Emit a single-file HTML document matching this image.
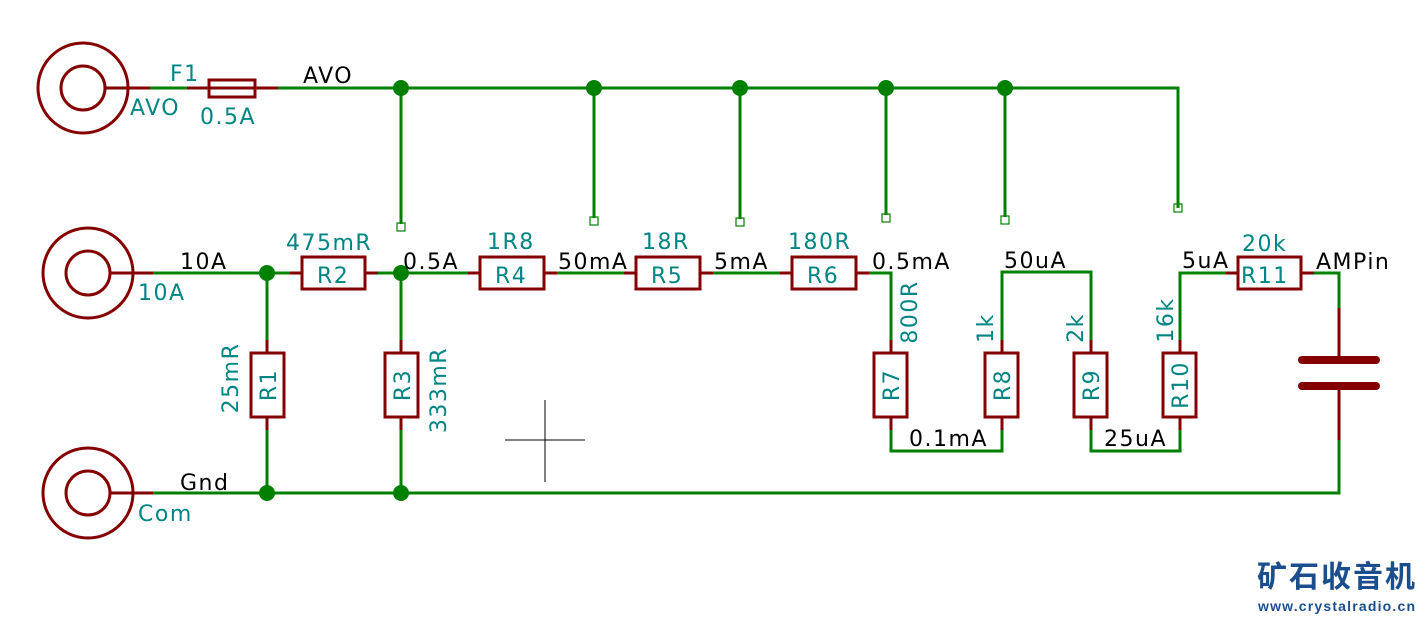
<!DOCTYPE html>
<html><head><meta charset="utf-8"><style>
html,body{margin:0;padding:0;background:#fff;}
svg{display:block}
text{font-family:"DejaVu Sans","Liberation Sans",sans-serif;font-size:22px;letter-spacing:1.5px;}
.t{fill:#008484}
.b{fill:#000}
</style></head><body>
<svg width="1424" height="617" viewBox="0 0 1424 617" xmlns="http://www.w3.org/2000/svg">
<g fill="none" stroke="#840000" stroke-width="3">
<circle cx="83" cy="88" r="45"/><circle cx="83" cy="88" r="22"/>
<circle cx="88" cy="273" r="45"/><circle cx="88" cy="273" r="22"/>
<circle cx="88" cy="493" r="45"/><circle cx="88" cy="493" r="22"/>
<line x1="105" y1="88" x2="150" y2="88"/>
<line x1="187" y1="88" x2="278" y2="88"/>
<rect x="209" y="80" width="46" height="17"/>
<line x1="110" y1="273" x2="153" y2="273"/>
<line x1="110" y1="493" x2="153" y2="493"/>
<rect x="302" y="257" width="63" height="32"/><line x1="290" y1="273" x2="302" y2="273"/><line x1="365" y1="273" x2="378" y2="273"/>
<rect x="480" y="257" width="64" height="32"/><line x1="468" y1="273" x2="480" y2="273"/><line x1="544" y1="273" x2="557" y2="273"/>
<rect x="636" y="257" width="64" height="32"/><line x1="624" y1="273" x2="636" y2="273"/><line x1="700" y1="273" x2="713" y2="273"/>
<rect x="792" y="257" width="64" height="32"/><line x1="780" y1="273" x2="792" y2="273"/><line x1="856" y1="273" x2="869" y2="273"/>
<rect x="1238" y="257" width="63" height="32"/><line x1="1226" y1="273" x2="1238" y2="273"/><line x1="1301" y1="273" x2="1314" y2="273"/>
<rect x="251" y="353" width="33" height="64"/><line x1="267" y1="340" x2="267" y2="353"/><line x1="267" y1="417" x2="267" y2="430"/>
<rect x="385" y="353" width="33" height="64"/><line x1="401" y1="340" x2="401" y2="353"/><line x1="401" y1="417" x2="401" y2="430"/>
<rect x="874" y="353" width="33" height="64"/><line x1="891" y1="340" x2="891" y2="353"/><line x1="891" y1="417" x2="891" y2="430"/>
<rect x="985" y="353" width="33" height="64"/><line x1="1002" y1="340" x2="1002" y2="353"/><line x1="1002" y1="417" x2="1002" y2="430"/>
<rect x="1074" y="353" width="33" height="64"/><line x1="1091" y1="340" x2="1091" y2="353"/><line x1="1091" y1="417" x2="1091" y2="430"/>
<rect x="1163" y="353" width="33" height="64"/><line x1="1180" y1="340" x2="1180" y2="353"/><line x1="1180" y1="417" x2="1180" y2="430"/>
<line x1="1339" y1="308" x2="1339" y2="360"/><line x1="1339" y1="386" x2="1339" y2="440"/>
<line x1="1302" y1="360" x2="1376" y2="360" stroke-width="8" stroke-linecap="round"/>
<line x1="1302" y1="386" x2="1376" y2="386" stroke-width="8" stroke-linecap="round"/>
</g>
<g fill="none" stroke="#008000" stroke-width="3">
<line x1="150" y1="88" x2="187" y2="88"/>
<polyline points="278,88 1178,88 1178,208"/>
<line x1="401" y1="88" x2="401" y2="224"/>
<line x1="594" y1="88" x2="594" y2="218"/>
<line x1="740" y1="88" x2="740" y2="219"/>
<line x1="886" y1="88" x2="886" y2="215"/>
<line x1="1005" y1="88" x2="1005" y2="217"/>
<line x1="153" y1="273" x2="290" y2="273"/>
<line x1="378" y1="273" x2="468" y2="273"/>
<line x1="557" y1="273" x2="624" y2="273"/>
<line x1="713" y1="273" x2="780" y2="273"/>
<polyline points="869,273 891,273 891,340"/>
<polyline points="891,430 891,451 1002,451 1002,430"/>
<polyline points="1002,340 1002,272 1091,272 1091,340"/>
<polyline points="1091,430 1091,451 1180,451 1180,430"/>
<polyline points="1180,340 1180,273 1226,273"/>
<polyline points="1314,273 1339,273 1339,308"/>
<polyline points="1339,440 1339,493 153,493"/>
<line x1="267" y1="273" x2="267" y2="340"/><line x1="267" y1="430" x2="267" y2="493"/>
<line x1="401" y1="273" x2="401" y2="340"/><line x1="401" y1="430" x2="401" y2="493"/>
</g>
<g fill="none" stroke="#008000" stroke-width="1.2">
<rect x="397" y="223" width="8" height="8"/><rect x="590" y="217" width="8" height="8"/>
<rect x="736" y="218" width="8" height="8"/><rect x="882" y="214" width="8" height="8"/>
<rect x="1001" y="216" width="8" height="8"/><rect x="1174" y="204" width="8" height="8"/>
</g>
<g fill="#008000">
<circle cx="401" cy="88" r="8"/><circle cx="594" cy="88" r="8"/><circle cx="740" cy="88" r="8"/>
<circle cx="886" cy="88" r="8"/><circle cx="1005" cy="88" r="8"/>
<circle cx="267" cy="273" r="8"/><circle cx="401" cy="273" r="8"/>
<circle cx="267" cy="493" r="8"/><circle cx="401" cy="493" r="8"/>
</g>
<g stroke="#000" stroke-width="1"><line x1="505" y1="440" x2="585" y2="440"/><line x1="545" y1="400" x2="545" y2="482"/></g>
<text class="t" x="130" y="115">AVO</text>
<text class="t" x="170" y="81">F1</text>
<text class="t" x="200" y="124">0.5A</text>
<text class="b" x="303" y="83">AVO</text>
<text class="t" x="138" y="300">10A</text>
<text class="b" x="180" y="269">10A</text>
<text class="t" x="286" y="250">475mR</text>
<text class="t" x="317" y="283">R2</text>
<text class="b" x="403" y="269">0.5A</text>
<text class="t" x="487" y="249">1R8</text>
<text class="t" x="495" y="283">R4</text>
<text class="b" x="558" y="269">50mA</text>
<text class="t" x="642" y="249">18R</text>
<text class="t" x="651" y="283">R5</text>
<text class="b" x="714" y="269">5mA</text>
<text class="t" x="788" y="249">180R</text>
<text class="t" x="807" y="283">R6</text>
<text class="b" x="872" y="269">0.5mA</text>
<text class="b" x="1004" y="268">50uA</text>
<text class="b" x="1182" y="268">5uA</text>
<text class="t" x="1242" y="251">20k</text>
<text class="t" x="1241" y="283">R11</text>
<text class="b" x="1316" y="269">AMPin</text>
<text class="b" x="909" y="446">0.1mA</text>
<text class="b" x="1104" y="446">25uA</text>
<text class="b" x="180" y="490">Gnd</text>
<text class="t" x="138" y="521">Com</text>
<g class="t" text-anchor="middle">
<text transform="translate(276,385) rotate(-90)">R1</text>
<text transform="translate(410,385) rotate(-90)">R3</text>
<text transform="translate(899,385) rotate(-90)">R7</text>
<text transform="translate(1010,385) rotate(-90)">R8</text>
<text transform="translate(1099,385) rotate(-90)">R9</text>
<text transform="translate(1188,385) rotate(-90)">R10</text>
<text transform="translate(238,378) rotate(-90)">25mR</text>
<text transform="translate(446,390) rotate(-90)">333mR</text>
<text transform="translate(917,312) rotate(-90)">800R</text>
<text transform="translate(993,328) rotate(-90)">1k</text>
<text transform="translate(1083,328) rotate(-90)">2k</text>
<text transform="translate(1173,320) rotate(-90)">16k</text>
</g>
<text x="1257" y="587" style="font-family:'Noto Sans CJK SC','WenQuanYi Zen Hei',sans-serif;font-size:30px;font-weight:bold;fill:#1b4e8c;letter-spacing:0" textLength="158">矿石收音机</text>
<text x="1258" y="611" style="font-family:'Liberation Sans',sans-serif;font-size:14px;font-weight:bold;fill:#1b4e8c;letter-spacing:0" textLength="157">www.crystalradio.cn</text>
</svg>
</body></html>
